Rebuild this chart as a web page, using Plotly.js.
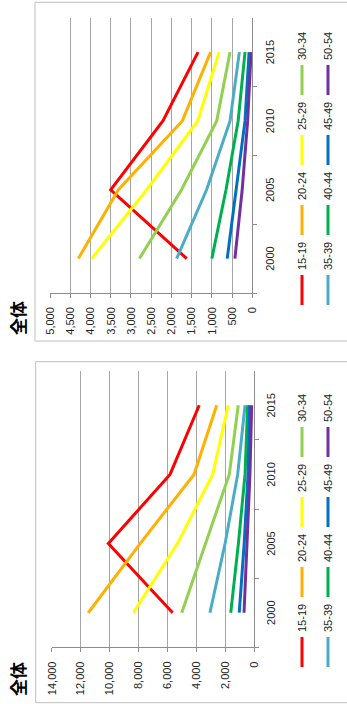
<!DOCTYPE html>
<html>
<head>
<meta charset="utf-8">
<script src="https://cdn.plot.ly/plotly-3.0.1.min.js"></script>
<style>
html,body{margin:0;padding:0;background:#fff;overflow:hidden;width:347px;height:704px;}
#chart{position:absolute;left:0;top:0;width:704px;height:347px;transform-origin:0 0;}
</style>
</head>
<body>
<div id="chart"></div>
<script>
// ---- data ----
const years = ["2000", "2005", "2010", "2015"];
const ageGroups = ["15-19", "20-24", "25-29", "30-34", "35-39", "40-44", "45-49", "50-54"];
const seriesColors = ["#FF0000", "#FFB000", "#FFFF00", "#92D050", "#4BACC6", "#00B050", "#0070C0", "#7030A0"];
const chartTitle = "全体";

// left chart (0 - 14,000)
const leftValues = [
  [5630, 10080, 5810, 3790],
  [11470, 7880, 4150, 2580],
  [8350, 5300, 2860, 1780],
  [5000, 3350, 1710, 1090],
  [3050, 2000, 1130, 620],
  [1610, 1080, 620, 440],
  [1020, 680, 415, 300],
  [690, 480, 280, 160]
];
// right chart (0 - 5,000)
const rightValues = [
  [1620, 3500, 2210, 1340],
  [4300, 3310, 1730, 1030],
  [3970, 2610, 1350, 820],
  [2790, 1750, 880, 550],
  [1870, 1130, 550, 320],
  [1000, 650, 350, 180],
  [620, 405, 180, 80],
  [430, 250, 115, 30]
];
const leftTicks = [0, 2000, 4000, 6000, 8000, 10000, 12000, 14000];
const rightTicks = [0, 500, 1000, 1500, 2000, 2500, 3000, 3500, 4000, 4500, 5000];

// ---- layout helpers ----
const W = 704, H = 347;
const px = v => v / W;
const py = v => 1 - v / H;
const FONT = "Liberation Sans, Arial, sans-serif";
const txt = "#222";

const traces = [];
ageGroups.forEach((g, i) => {
  const row = i < 4 ? 0 : 1;
  traces.push({
    type: "scatter", mode: "lines", name: g, x: years, y: leftValues[i],
    xaxis: "x", yaxis: "y", line: {color: seriesColors[i], width: 3},
    legend: row === 0 ? "legend" : "legend2", hoverinfo: "skip"
  });
});
ageGroups.forEach((g, i) => {
  const row = i < 4 ? 0 : 1;
  traces.push({
    type: "scatter", mode: "lines", name: g, x: years, y: rightValues[i],
    xaxis: "x2", yaxis: "y2", line: {color: seriesColors[i], width: 3},
    legend: row === 0 ? "legend3" : "legend4", hoverinfo: "skip"
  });
});

function catAxis(domain, anchor) {
  return {
    domain: domain, anchor: anchor, type: "category", range: [-0.5, 3.5],
    tickson: "boundaries", ticks: "outside", ticklen: 4, tickcolor: "#8c8c8c",
    showline: true, linecolor: "#8c8c8c", linewidth: 1, showgrid: false, zeroline: false,
    tickfont: {family: FONT, size: 11, color: txt}, ticklabelstandoff: 7, fixedrange: true,
    automargin: false
  };
}
function valAxis(domain, anchor, range, ticks) {
  return {
    domain: domain, anchor: anchor, range: range, tickmode: "array", tickvals: ticks,
    ticktext: ticks.map(v => v.toLocaleString("en-US")),
    ticks: "outside", ticklen: 4, tickcolor: "#8c8c8c",
    showline: true, linecolor: "#8c8c8c", linewidth: 1,
    showgrid: true, gridcolor: "#a6a6a6", gridwidth: 1, zeroline: false,
    tickfont: {family: FONT, size: 11, color: txt}, ticklabelstandoff: 7, fixedrange: true,
    automargin: false
  };
}
function legendRow(xPix, yPix) {
  return {
    orientation: "h", x: px(xPix), y: py(yPix), xanchor: "left", yanchor: "middle",
    entrywidth: 25, entrywidthmode: "pixels", bgcolor: "rgba(0,0,0,0)", borderwidth: 0,
    font: {family: FONT, size: 11, color: txt}, itemclick: false, itemdoubleclick: false,
    traceorder: "normal"
  };
}

const layout = {
  width: W, height: H, margin: {l: 0, r: 0, t: 0, b: 0, pad: 0, autoexpand: false},
  paper_bgcolor: "#fff", plot_bgcolor: "rgba(0,0,0,0)", showlegend: true,
  xaxis: catAxis([px(56.7), px(333.3)], "y"),
  yaxis: valAxis([py(254), py(51.7)], "x", [0, 14000], leftTicks),
  xaxis2: catAxis([px(411), px(686.3)], "y2"),
  yaxis2: valAxis([py(252.3), py(50)], "x2", [0, 5000], rightTicks),
  legend: legendRow(32, 302),
  legend2: legendRow(32, 328),
  legend3: legendRow(394, 302),
  legend4: legendRow(394, 328),
  shapes: [
    {type: "rect", xref: "paper", yref: "paper", x0: px(1.3), x1: px(342.3), y0: py(360), y1: py(35.7),
     line: {color: "#bfbfbf", width: 1}, fillcolor: "rgba(0,0,0,0)", layer: "below"},
    {type: "rect", xref: "paper", yref: "paper", x0: px(363), x1: px(701.7), y0: py(360), y1: py(35),
     line: {color: "#bfbfbf", width: 1}, fillcolor: "rgba(0,0,0,0)", layer: "below"}
  ],
  annotations: [
    {text: "<b>" + chartTitle + "</b>", xref: "paper", yref: "paper", x: px(24.8), y: py(17.5),
     xanchor: "center", yanchor: "middle", showarrow: false,
     font: {family: "Noto Sans CJK JP", size: 17, color: "#000"}},
    {text: "<b>" + chartTitle + "</b>", xref: "paper", yref: "paper", x: px(385.5), y: py(17.5),
     xanchor: "center", yanchor: "middle", showarrow: false,
     font: {family: "Noto Sans CJK JP", size: 17, color: "#000"}}
  ]
};

Plotly.newPlot("chart", traces, layout, {staticPlot: true, displayModeBar: false}).then(() => {
  document.getElementById("chart").style.transform = "translate(0px, 704px) rotate(-90deg)";
});
</script>
</body>
</html>
